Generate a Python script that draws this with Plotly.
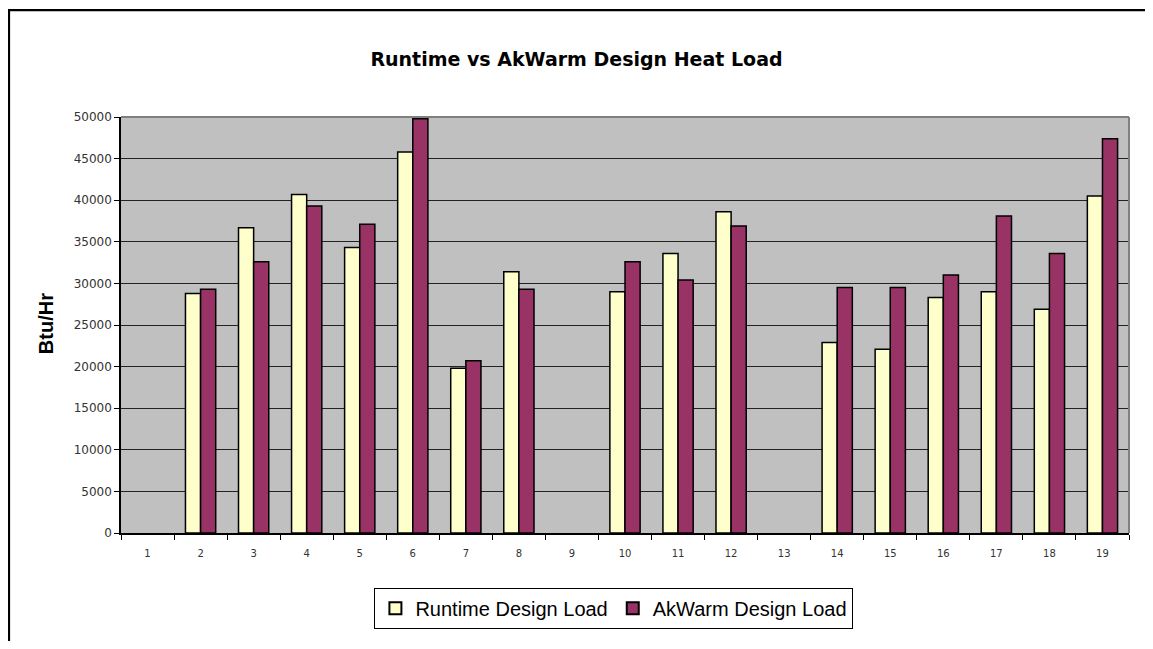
import plotly.graph_objects as go

categories = [str(i) for i in range(1, 20)]
runtime_load = [None, 28800, 36700, 40700, 34300, 45800, 19800, 31400, None,
                29000, 33600, 38600, None, 22900, 22100, 28300, 29000, 26900, 40500]
akwarm_load = [None, 29300, 32600, 39300, 37100, 49800, 20700, 29300, None,
               32600, 30400, 36900, None, 29500, 29500, 31000, 38100, 33600, 47400]
y_ticks = list(range(0, 50001, 5000))

fig = go.Figure()
fig.add_trace(go.Bar(x=categories, y=runtime_load, name="Runtime Design Load",
                     marker=dict(color="#FFFFCC", line=dict(color="black", width=1.5))))
fig.add_trace(go.Bar(x=categories, y=akwarm_load, name="AkWarm Design Load",
                     marker=dict(color="#993366", line=dict(color="black", width=1.5))))

fig.update_layout(
    width=1137, height=633,
    margin=dict(l=113, r=16, t=109, b=104),
    paper_bgcolor="white", plot_bgcolor="#C0C0C0",
    barmode="group", bargap=0.43, bargroupgap=0,
    title=dict(text="<b>Runtime vs AkWarm Design Heat Load</b>",
               font=dict(family="DejaVu Sans", size=19, color="black"),
               x=0.5, xanchor="center", y=0.9194, yanchor="middle"),
    showlegend=True,
    legend=dict(orientation="h", x=0.489, xanchor="center", y=-0.181, yanchor="middle",
                bordercolor="black", borderwidth=1, bgcolor="white",
                font=dict(family="Liberation Sans, Arial", size=20, color="black"),
                traceorder="normal", itemsizing="constant"),
    xaxis=dict(type="category", tickson="boundaries", ticks="outside", ticklen=5,
               tickcolor="black", showline=True, linecolor="black", linewidth=1.5,
               showgrid=False, mirror=False, ticklabelstandoff=10,
               tickfont=dict(family="DejaVu Sans", size=10, color="#333333")),
    yaxis=dict(range=[0, 50000], tickvals=y_ticks, tickformat="d", ticks="outside", ticklen=5,
               tickcolor="black", showline=True, linecolor="black", linewidth=1.5,
               showgrid=True, gridcolor="#222222", gridwidth=1, zeroline=False,
               tickfont=dict(family="DejaVu Sans", size=12, color="#333333")),
    annotations=[
        dict(text="<b>Btu/Hr</b>", xref="paper", yref="paper", x=-0.0744, y=0.502,
             xanchor="center", yanchor="middle", textangle=-90, showarrow=False,
             font=dict(family="Liberation Sans, Arial", size=20, color="black")),
    ],
    shapes=[
        dict(type="line", xref="paper", yref="paper", x0=0, x1=1, y0=1, y1=1,
             line=dict(color="#808080", width=2)),
        dict(type="line", xref="paper", yref="paper", x0=1, x1=1, y0=0, y1=1,
             line=dict(color="#808080", width=2)),
        dict(type="rect", xref="paper", yref="paper", x0=-0.1111, x1=1.5, y0=-0.5, y1=1.2571,
             line=dict(color="black", width=2.2), fillcolor="rgba(0,0,0,0)", layer="above"),
    ],
)

fig.write_html("out.html")
